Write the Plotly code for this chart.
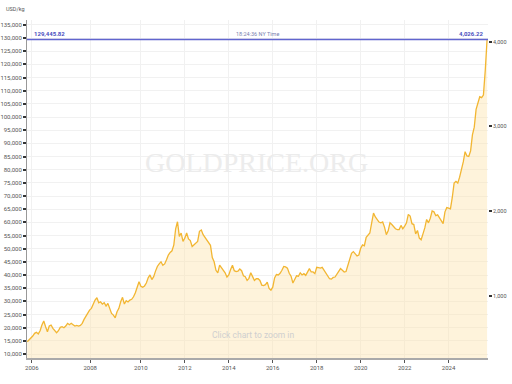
import numpy as np
import pandas as pd
import plotly.graph_objects as go

# ---- data (USD/oz) ----
dates_a = pd.date_range("2005-11-05", "2007-12-27", periods=35)
price_a = [456, 476, 496, 523, 555, 567, 548, 586, 653, 700, 633, 574, 641, 653, 614,
           582, 562, 586, 626, 633, 621, 641, 673, 657, 673, 657, 641, 649, 641, 649,
           673, 720, 759, 791, 830]

dates_b = pd.date_range("2008-01-10", "2009-12-20", periods=27)
price_b = [850, 909, 948, 975, 916, 928, 901, 916, 877, 909, 850, 791, 771, 739, 810,
           850, 928, 980, 901, 940, 925, 948, 957, 987, 1035, 1098, 1164]

dates_c = pd.date_range("2010-01-01", "2025-10-01", freq="MS")
price_c = [
    1110, 1100, 1115, 1150, 1210, 1245, 1190, 1225, 1290, 1345, 1375, 1400,  # 2010
    1360, 1375, 1425, 1480, 1510, 1530, 1600, 1790, 1873, 1700, 1740, 1640,  # 2011
    1680, 1740, 1670, 1650, 1580, 1600, 1610, 1640, 1760, 1775, 1720, 1690,  # 2012
    1670, 1630, 1595, 1450, 1400, 1300, 1270, 1360, 1330, 1310, 1270, 1220,  # 2013
    1245, 1310, 1360, 1295, 1285, 1290, 1315, 1295, 1235, 1225, 1180, 1205,  # 2014
    1270, 1225, 1180, 1200, 1200, 1180, 1125, 1120, 1130, 1160, 1085, 1065,  # 2015
    1100, 1210, 1250, 1245, 1265, 1300, 1345, 1340, 1325, 1265, 1230, 1150,  # 2016
    1195, 1235, 1230, 1270, 1245, 1260, 1240, 1285, 1320, 1280, 1280, 1260,  # 2017
    1335, 1330, 1325, 1335, 1300, 1280, 1235, 1200, 1195, 1215, 1220, 1250,  # 2018
    1290, 1320, 1300, 1280, 1285, 1360, 1415, 1500, 1520, 1495, 1470, 1480,  # 2019
    1560, 1600, 1590, 1690, 1720, 1740, 1860, 1975, 1930, 1905, 1870, 1860,  # 2020
    1870, 1810, 1720, 1765, 1860, 1840, 1810, 1790, 1780, 1780, 1830, 1790,  # 2021
    1820, 1860, 1960, 1940, 1850, 1840, 1730, 1770, 1680, 1660, 1730, 1800,  # 2022
    1900, 1860, 1915, 2000, 1990, 1945, 1955, 1920, 1900, 1850, 1990, 2040,  # 2023
    2035, 2025, 2160, 2330, 2350, 2330, 2400, 2475, 2580, 2700, 2650, 2645,  # 2024
    2710, 2900, 2990, 3200, 3290, 3350, 3340, 3370, 3660, 4026.22,           # 2025
]

tick_years = [2006, 2008, 2010, 2012, 2014, 2016, 2018, 2020, 2022, 2024]
left_ticks = list(range(10000, 135001, 5000))
right_ticks = [1000, 2000, 3000, 4000]

current_kg = 129445.82
current_oz = 4026.22
current_time = "18:24:36 NY Time"

OZ_PER_KG = 32.1507

# ---- build ----
dates = list(dates_a) + list(dates_b) + list(dates_c)
price_oz = np.array(price_a + price_b + price_c, dtype=float)
price_kg = price_oz * OZ_PER_KG
idx = np.arange(len(dates))
ts = np.array([d.value for d in dates], dtype=float)
tickpos = [float(np.interp(pd.Timestamp(f"{y}-01-01").value, ts, idx)) for y in tick_years]

y_range = [8480, 136835]
y2_range = [y_range[0] / OZ_PER_KG, y_range[1] / OZ_PER_KG]

fig = go.Figure()
fig.add_trace(go.Scatter(
    x=idx, y=price_kg, mode="lines",
    line=dict(color="#f2b632", width=1.3),
    fill="tozeroy", fillcolor="rgba(253,228,175,0.45)",
    hoverinfo="skip", showlegend=False, yaxis="y",
))
fig.add_trace(go.Scatter(
    x=idx, y=price_oz, mode="lines", line=dict(width=0, color="rgba(0,0,0,0)"),
    hoverinfo="skip", showlegend=False, yaxis="y2",
))

fnt = dict(family="Roboto", size=6, color="#555")

fig.update_layout(
    width=512, height=384, autosize=False,
    margin=dict(l=27, r=24, t=20, b=26),
    paper_bgcolor="white", plot_bgcolor="white",
    font=fnt,
    xaxis=dict(
        range=[-0.15, len(dates) - 0.5], tickmode="array", tickvals=tickpos,
        ticktext=[str(y) for y in tick_years], showgrid=True, gridcolor="#f1f1f1",
        gridwidth=1, zeroline=False, showline=True, linecolor="#aaaaaa", linewidth=1.5,
        ticks="outside", ticklen=3, tickcolor="#555", tickwidth=1, tickfont=fnt,
        automargin=False,
    ),
    yaxis=dict(
        range=y_range, tickmode="array", tickvals=left_ticks,
        ticktext=[f"{v:,}" for v in left_ticks], showgrid=True, gridcolor="#f1f1f1",
        zeroline=False, showline=True, linecolor="#999999", linewidth=1,
        ticks="outside", ticklen=3, tickcolor="#333", tickwidth=1.5, tickfont=fnt,
        automargin=False,
    ),
    yaxis2=dict(
        range=y2_range, overlaying="y", side="right", tickmode="array",
        tickvals=right_ticks, ticktext=[f"{v:,}" for v in right_ticks],
        showgrid=False, zeroline=False, showline=False,
        ticks="outside", ticklen=3, tickcolor="#333", tickwidth=1.5,
        tickfont=dict(family="Roboto", size=5.5, color="#555"),
        automargin=False,
    ),
    shapes=[dict(type="line", xref="paper", x0=0, x1=1, yref="y",
                 y0=current_kg, y1=current_kg, line=dict(color="#6165cf", width=1.6),
                 layer="above")],
    annotations=[
        dict(text="USD/kg", xref="paper", yref="paper", x=0, y=1.018, xanchor="right",
             yanchor="bottom", showarrow=False, font=dict(family="Roboto", size=5.5, color="#555")),
        dict(text=f"<b>{current_kg:,.2f}</b>", xref="paper", yref="y", x=0.011, y=current_kg,
             xanchor="left", yanchor="bottom", yshift=0, showarrow=False,
             font=dict(family="Roboto", size=6, color="#4a4fc0")),
        dict(text=current_time, xref="paper", yref="y", x=0.5, y=current_kg,
             xanchor="center", yanchor="bottom", showarrow=False,
             font=dict(family="Roboto", size=5.5, color="#7a7fb0")),
        dict(text=f"<b>{current_oz:,.2f}</b>", xref="paper", yref="y", x=0.993, y=current_kg,
             xanchor="right", yanchor="bottom", showarrow=False,
             font=dict(family="Roboto", size=6, color="#4a4fc0")),
        dict(text="GOLDPRICE.ORG", xref="paper", yref="paper", x=0.498, y=0.577,
             xanchor="center", yanchor="middle", showarrow=False,
             font=dict(family="Liberation Serif", size=28, color="#ececec")),
        dict(text="Click chart to zoom in", xref="paper", yref="paper", x=0.49, y=0.068,
             xanchor="center", yanchor="middle", showarrow=False,
             font=dict(family="Roboto", size=8.5, color="#cfcfcf")),
    ],
)

fig.write_html("out.html", config={"displayModeBar": False},
               post_script="document.body.style.margin='0';")
